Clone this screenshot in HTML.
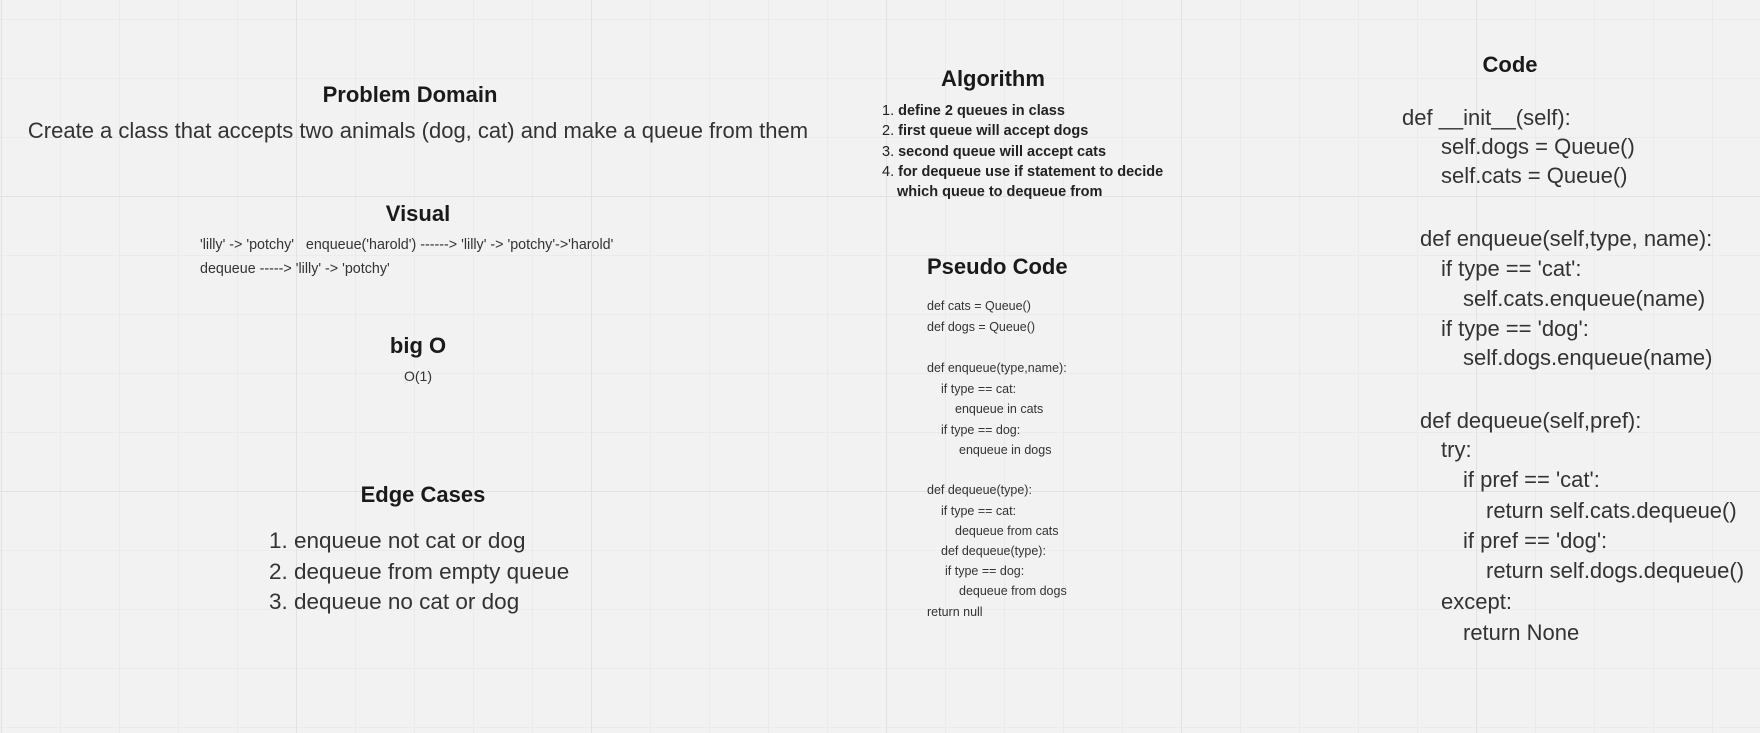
<!DOCTYPE html>
<html><head><meta charset="utf-8"><style>
body{margin:0;width:1760px;height:733px;overflow:hidden;background:#f2f2f2;position:relative;font-family:"Liberation Sans",sans-serif;color:#222;}
.g{position:absolute;inset:0;
background-image:
linear-gradient(to right,#e2e2e2 1px,transparent 1px),
linear-gradient(to bottom,#e2e2e2 1px,transparent 1px),
linear-gradient(to right,#ebebeb 1px,transparent 1px),
linear-gradient(to bottom,#ebebeb 1px,transparent 1px);
background-size:295px 295px,295px 295px,59px 59px,59px 59px;
background-position:1px 0,0 196px,1px 0,0 19px;}
.t{position:absolute;white-space:pre;line-height:30px;height:30px;}
.c{transform:translateX(-50%);}
.h{font-weight:bold;font-size:22px;color:#1a1a1a;}
.s{font-size:12.5px;color:#333;line-height:20px;height:20px;}
.code{font-size:22px;color:#333;}
.alg{font-size:14.5px;font-weight:bold;color:#222;line-height:20px;height:20px;}
</style></head><body>
<div class="g"></div>

<div class="t h c" style="left:410px;top:80px">Problem Domain</div>
<div class="t c" style="left:418px;top:116px;font-size:22px;color:#333">Create a class that accepts two animals (dog, cat) and make a queue from them</div>

<div class="t h c" style="left:418px;top:199px">Visual</div>
<div class="t s" style="left:200px;top:235px;font-size:14.3px">'lilly' -&gt; 'potchy'   enqueue('harold') ------&gt; 'lilly' -&gt; 'potchy'-&gt;'harold'</div>
<div class="t s" style="left:200px;top:259px;font-size:14.3px">dequeue -----&gt; 'lilly' -&gt; 'potchy'</div>

<div class="t h c" style="left:418px;top:331px">big O</div>
<div class="t s c" style="left:418px;top:366px;font-size:14px">O(1)</div>

<div class="t h c" style="left:423px;top:480px">Edge Cases</div>
<div class="t" style="left:269px;top:526px;font-size:22.5px;color:#333">1. enqueue not cat or dog</div>
<div class="t" style="left:269px;top:557px;font-size:22.5px;color:#333">2. dequeue from empty queue</div>
<div class="t" style="left:269px;top:587px;font-size:22.5px;color:#333">3. dequeue no cat or dog</div>

<div class="t h c" style="left:993px;top:64px">Algorithm</div>
<div class="t alg" style="left:882px;top:101px"><span style="font-weight:normal">1.</span> define 2 queues in class</div>
<div class="t alg" style="left:882px;top:121px"><span style="font-weight:normal">2.</span> first queue will accept dogs</div>
<div class="t alg" style="left:882px;top:142px"><span style="font-weight:normal">3.</span> second queue will accept cats</div>
<div class="t alg" style="left:882px;top:162px"><span style="font-weight:normal">4.</span> for dequeue use if statement to decide</div>
<div class="t alg" style="left:897px;top:182px">which queue to dequeue from</div>

<div class="t h" style="left:927px;top:252px">Pseudo Code</div>
<div class="t s" style="left:927px;top:296px">def cats = Queue()</div>
<div class="t s" style="left:927px;top:317px">def dogs = Queue()</div>
<div class="t s" style="left:927px;top:358px">def enqueue(type,name):</div>
<div class="t s" style="left:941px;top:379px">if type == cat:</div>
<div class="t s" style="left:955px;top:399px">enqueue in cats</div>
<div class="t s" style="left:941px;top:420px">if type == dog:</div>
<div class="t s" style="left:959px;top:440px">enqueue in dogs</div>
<div class="t s" style="left:927px;top:480px">def dequeue(type):</div>
<div class="t s" style="left:941px;top:501px">if type == cat:</div>
<div class="t s" style="left:955px;top:521px">dequeue from cats</div>
<div class="t s" style="left:941px;top:541px">def dequeue(type):</div>
<div class="t s" style="left:945px;top:561px">if type == dog:</div>
<div class="t s" style="left:959px;top:581px">dequeue from dogs</div>
<div class="t s" style="left:927px;top:602px">return null</div>

<div class="t h c" style="left:1510px;top:50px">Code</div>
<div class="t code" style="left:1402px;top:103px">def __init__(self):</div>
<div class="t code" style="left:1441px;top:132px">self.dogs = Queue()</div>
<div class="t code" style="left:1441px;top:161px">self.cats = Queue()</div>
<div class="t code" style="left:1420px;top:224px">def enqueue(self,type, name):</div>
<div class="t code" style="left:1441px;top:254px">if type == 'cat':</div>
<div class="t code" style="left:1463px;top:284px">self.cats.enqueue(name)</div>
<div class="t code" style="left:1441px;top:314px">if type == 'dog':</div>
<div class="t code" style="left:1463px;top:343px">self.dogs.enqueue(name)</div>
<div class="t code" style="left:1420px;top:406px">def dequeue(self,pref):</div>
<div class="t code" style="left:1441px;top:435px">try:</div>
<div class="t code" style="left:1463px;top:465px">if pref == 'cat':</div>
<div class="t code" style="left:1486px;top:496px">return self.cats.dequeue()</div>
<div class="t code" style="left:1463px;top:526px">if pref == 'dog':</div>
<div class="t code" style="left:1486px;top:556px">return self.dogs.dequeue()</div>
<div class="t code" style="left:1441px;top:587px">except:</div>
<div class="t code" style="left:1463px;top:618px">return None</div>
</body></html>
